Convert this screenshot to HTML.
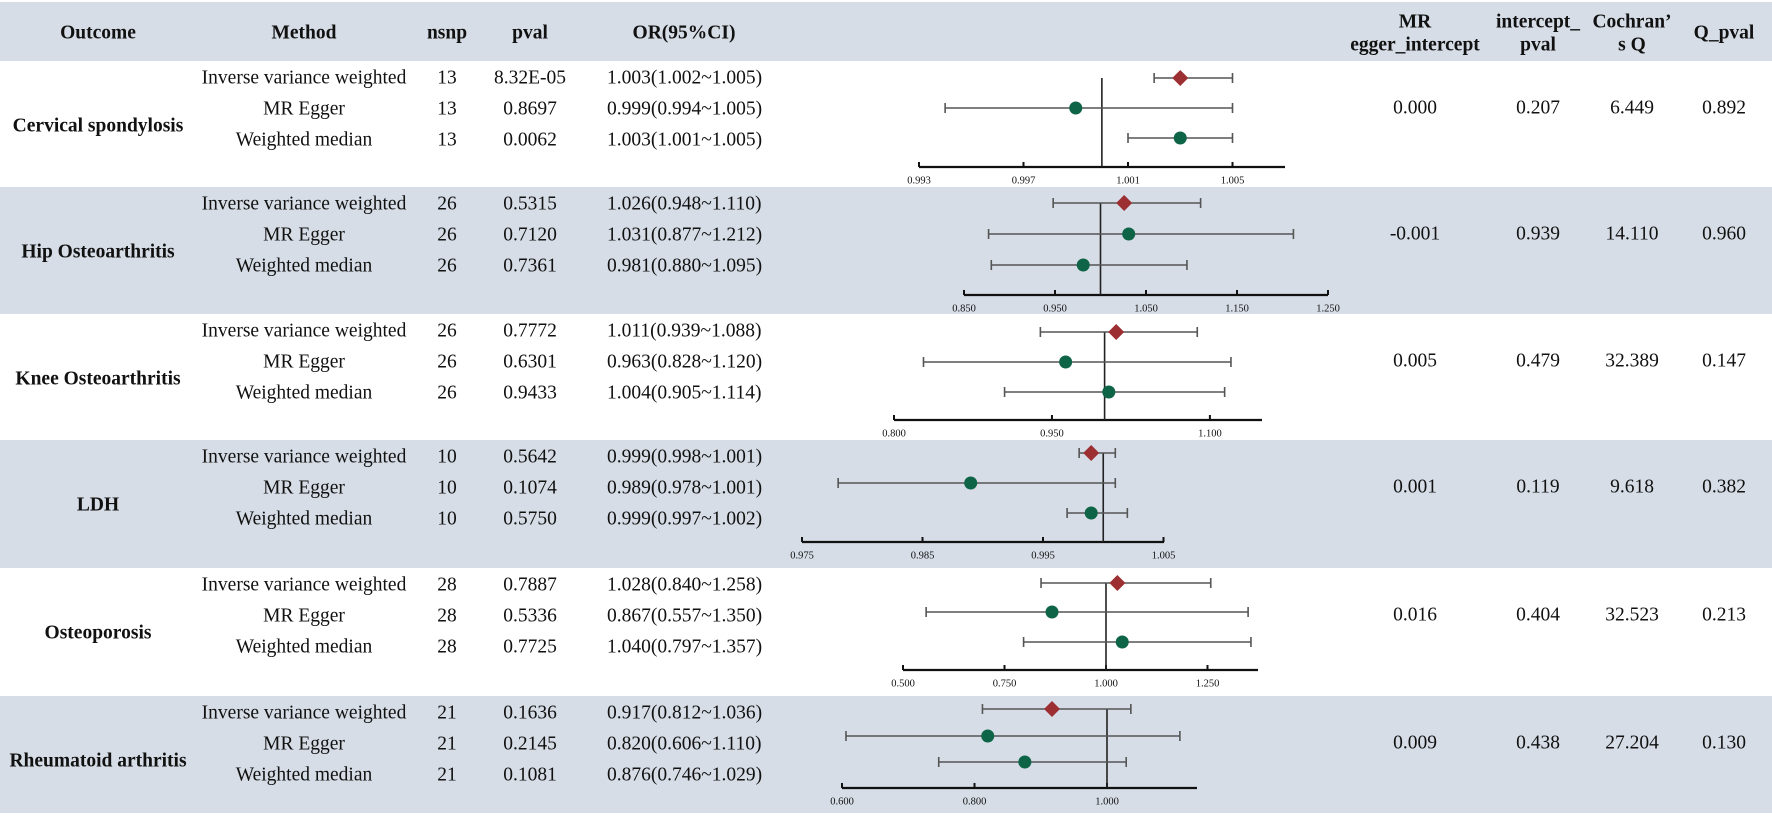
<!DOCTYPE html>
<html><head><meta charset="utf-8"><style>
html,body{margin:0;padding:0;background:#fff}
svg{display:block}
text{font-family:"Liberation Serif",serif;fill:#111}
</style></head><body>
<svg id="chart" width="1772" height="816" viewBox="0 0 1772 816" xmlns="http://www.w3.org/2000/svg"></svg>
<script>
const outcomes=["Cervical spondylosis","Hip Osteoarthritis","Knee Osteoarthritis","LDH","Osteoporosis","Rheumatoid arthritis"];
const methods=["Inverse variance weighted","MR Egger","Weighted median"];
const nsnp=[[13,13,13],[26,26,26],[26,26,26],[10,10,10],[28,28,28],[21,21,21]];
const pvals=[["8.32E-05","0.8697","0.0062"],["0.5315","0.7120","0.7361"],["0.7772","0.6301","0.9433"],["0.5642","0.1074","0.5750"],["0.7887","0.5336","0.7725"],["0.1636","0.2145","0.1081"]];
const orVals=[[1.003,0.999,1.003],[1.026,1.031,0.981],[1.011,0.963,1.004],[0.999,0.989,0.999],[1.028,0.867,1.040],[0.917,0.820,0.876]];
const ciLow=[[1.002,0.994,1.001],[0.948,0.877,0.880],[0.939,0.828,0.905],[0.998,0.978,0.997],[0.840,0.557,0.797],[0.812,0.606,0.746]];
const ciHigh=[[1.005,1.005,1.005],[1.110,1.212,1.095],[1.088,1.120,1.114],[1.001,1.001,1.002],[1.258,1.350,1.357],[1.036,1.110,1.029]];
const eggerIntercept=["0.000","-0.001","0.005","0.001","0.016","0.009"];
const interceptPval=["0.207","0.939","0.479","0.119","0.404","0.438"];
const cochranQ=["6.449","14.110","32.389","9.618","32.523","27.204"];
const qPval=["0.892","0.960","0.147","0.382","0.213","0.130"];
const tickVals=[[0.993,0.997,1.001,1.005],[0.85,0.95,1.05,1.15,1.25],[0.8,0.95,1.1],[0.975,0.985,0.995,1.005],[0.5,0.75,1.0,1.25],[0.6,0.8,1.0]];
const tickLabels=[["0.993","0.997","1.001","1.005"],["0.850","0.950","1.050","1.150","1.250"],["0.800","0.950","1.100"],["0.975","0.985","0.995","1.005"],["0.500","0.750","1.000","1.250"],["0.600","0.800","1.000"]];
const refValue=1.0;

// layout (pixel geometry, not data)
const blockTop=[61,187,314,440,568,696,813];
const axisCfg=[
 {v0:0.993,p0:919,k:26125,end:1285,y:167,rows:[78,108,138]},
 {v0:0.85,p0:964,k:910,end:1328,y:295,rows:[203,234,265]},
 {v0:0.8,p0:894,k:1053,end:1262,y:420,rows:[332,362,392]},
 {v0:0.975,p0:802,k:12050,end:1164,y:542,rows:[453,483,513]},
 {v0:0.5,p0:903,k:406,end:1258,y:670,rows:[583,612,642]},
 {v0:0.6,p0:842,k:662.5,end:1197,y:788,rows:[709,736,762]}
];
const svg=document.getElementById('chart');
const NS='http://www.w3.org/2000/svg';
function mk(tag,attrs,parent){const e=document.createElementNS(NS,tag);for(const a in attrs)e.setAttribute(a,attrs[a]);(parent||svg).appendChild(e);return e;}
function txt(s,x,y,size,anchor,bold,parent){const t=mk('text',{x:x,y:y,'font-size':size,'text-anchor':anchor||'middle','dominant-baseline':'central','font-weight':bold?'bold':'normal'},parent);t.textContent=s;return t;}

// header
const hdr=mk('g',{});


mk('rect',{x:0,y:2,width:1772,height:59,fill:'#d6dde6'},hdr);
const H=19.5;
[["Outcome",98,33],["Method",304,33],["nsnp",447,33],["pval",530,33],["OR(95%CI)",684,33],["MR",1415,22],["egger_intercept",1415,45],["intercept_",1538,22],["pval",1538,45],["Cochran’",1632,22],["s Q",1632,45],["Q_pval",1724,33]].forEach(h=>{
 const t=txt(h[0],h[1],h[2],H,'middle',true,hdr);
 
 
});

const shapeRed='#9c2f32', green='#0e6446', lineC='#555';
outcomes.forEach((o,i)=>{
 const g=mk('g',{});
 
 
 const top=blockTop[i], bot=blockTop[i+1];
 mk('rect',{x:0,y:top,width:1772,height:bot-top,fill:i%2?'#d6dde6':'#ffffff'},g);
 const cfg=axisCfg[i];
 const X=v=>cfg.p0+(v-cfg.v0)*cfg.k;
 const ol=txt(o,98,top+65,H,'middle',true,g);
 
 
 methods.forEach((m,j)=>{
  const ty=top+17+j*31;
  txt(m,304,ty,H,'middle',false,g);
  txt(String(nsnp[i][j]),447,ty,H,'middle',false,g);
  txt(pvals[i][j],530,ty,H,'middle',false,g);
  txt(orVals[i][j].toFixed(3)+'('+ciLow[i][j].toFixed(3)+'~'+ciHigh[i][j].toFixed(3)+')',607,ty,H,'start',false,g);
 });
 const ax=mk('line',{x1:cfg.p0,y1:cfg.y,x2:cfg.end,y2:cfg.y,stroke:'#111','stroke-width':2.2},g);
 
 
 tickVals[i].forEach((v,t)=>{
  mk('line',{x1:X(v),y1:cfg.y,x2:X(v),y2:cfg.y-5,stroke:'#111','stroke-width':2},g);
  const tl=txt(tickLabels[i][t],X(v),cfg.y+14,10.5,'middle',false,g);
  tl.setAttribute('fill','#333');
  
  
 });
 const ref=mk('line',{x1:X(refValue),y1:cfg.rows[0],x2:X(refValue),y2:cfg.y,stroke:'#222','stroke-width':1.6},g);
 
 
 methods.forEach((m,j)=>{
  const y=cfg.rows[j];
  const lo=X(ciLow[i][j]), hi=X(ciHigh[i][j]), c=X(orVals[i][j]);
  const ci=mk('line',{x1:lo,y1:y,x2:hi,y2:y,stroke:lineC,'stroke-width':1.6},g);
  
  
  mk('line',{x1:lo,y1:y-5,x2:lo,y2:y+5,stroke:lineC,'stroke-width':1.6},g);
  mk('line',{x1:hi,y1:y-5,x2:hi,y2:y+5,stroke:lineC,'stroke-width':1.6},g);
  let mark;
  if(j===0){
   mark=mk('polygon',{points:`${c},${y-8} ${c+8},${y} ${c},${y+8} ${c-8},${y}`,fill:shapeRed},g);
   
  }else{
   mark=mk('circle',{cx:c,cy:y,r:6.5,fill:green},g);
   
  }
  
 });
 const my=top+47;
 [[eggerIntercept[i],1415],[interceptPval[i],1538],[cochranQ[i],1632],[qPval[i],1724]].forEach(v=>{
  const t=txt(v[0],v[1],my,H,'middle',false,g);
  
  
 });
});
</script>
</body></html>
